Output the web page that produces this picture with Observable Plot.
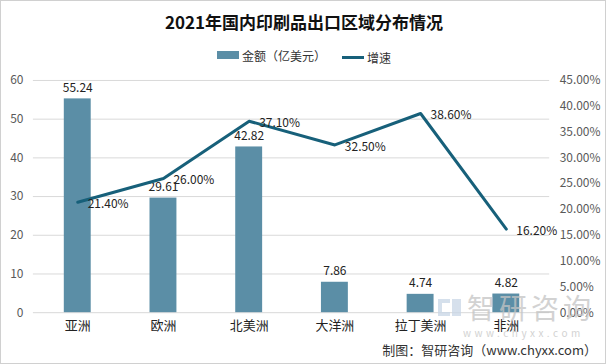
<!DOCTYPE html>
<html><head><meta charset="utf-8">
<script src="https://cdn.jsdelivr.net/npm/d3@7"></script>
<script src="https://cdn.jsdelivr.net/npm/@observablehq/plot@0.6"></script>
<style>
body{margin:0;background:#fff;font-family:"Noto Sans CJK SC","Noto Sans",sans-serif;}
#wrap{position:relative;width:606px;height:364px;box-sizing:border-box;border:1px solid #d0d0d0;overflow:hidden;background:#fff;}
#title{position:absolute;left:0;top:8px;width:606px;text-align:center;font-size:17px;font-weight:bold;color:#111;}
#legend{position:absolute;left:0;top:44px;width:606px;text-align:center;font-size:12px;color:#333;}
#legend span{display:inline-flex;align-items:center;margin:0 8px;}
#plot{position:absolute;left:0;top:67px;}
#cap{position:absolute;right:8px;top:339px;font-size:13px;color:#333;}
#wm{position:absolute;left:466px;top:286px;color:#c4c4c4;opacity:0.75;font-size:28px;letter-spacing:4px;pointer-events:none;}
#wm2{position:absolute;left:462px;top:324px;color:#c4c4c4;opacity:0.75;font-size:10px;letter-spacing:3.5px;pointer-events:none;}
#logo1{position:absolute;left:437px;top:298px;width:12px;height:17px;border:4px solid #c8d6e6;border-right:none;opacity:0.75;box-sizing:border-box;}
#logo2{position:absolute;left:451px;top:298px;width:9px;height:17px;background:#c8d6e6;opacity:0.75;}
</style></head>
<body>
<div id="wrap">
<div id="title">2021年国内印刷品出口区域分布情况</div>
<div id="legend"><span><i style="display:inline-block;width:22px;height:8px;background:#5b8ea6;margin-right:3px"></i>金额（亿美元）</span><span><i style="display:inline-block;width:22px;height:3px;background:#17607a;margin-right:3px"></i>增速</span></div>
<div id="plot"></div>
<div id="logo1"></div><div id="logo2"></div>
<div id="wm">智研咨询</div>
<div id="wm2">www.chyxx.com</div>
<div id="cap">制图：智研咨询（www.chyxx.com）</div>
</div>
<script>
const regions = ["亚洲","欧洲","北美洲","大洋洲","拉丁美洲","非洲"];
const amounts = [55.24, 29.61, 42.82, 7.86, 4.74, 4.82];
const growth = [21.40, 26.00, 37.10, 32.50, 38.60, 16.20];
const leftTicks = [0,10,20,30,40,50,60];
const rightTicks = [0,5,10,15,20,25,30,35,40,45];

const k = 60/45;
const data = regions.map((r,i)=>({region:r, amount:amounts[i], growth:growth[i], gy:growth[i]*k}));

const chart = Plot.plot({
  width:606, height:272,
  marginTop:12, marginBottom:27, marginLeft:32, marginRight:56,
  style:{fontFamily:'"Noto Sans CJK SC","Noto Sans",sans-serif', fontSize:"12px", color:"#595959", background:"transparent"},
  x:{domain:regions, paddingInner:0.69, paddingOuter:0.345, label:null},
  y:{domain:[0,60], label:null},
  marks:[
    Plot.gridY(leftTicks,{stroke:"#d9d9d9", strokeOpacity:1}),
    Plot.axisY(leftTicks,{anchor:"left", tickSize:0, tickPadding:10, label:null, fontSize:12}),
    Plot.axisY(rightTicks.map(p=>p*k),{anchor:"right", tickSize:0, tickPadding:10, textAnchor:"start", label:null, tickFormat:d=>(d/k).toFixed(2)+"%", fontSize:12}),
    Plot.axisX({tickSize:0, tickPadding:8, label:null, fontSize:13, fill:"#222"}),
    Plot.barY(data,{x:"region", y:"amount", fill:"#5b8ea6"}),
    Plot.text(data,{x:"region", y:"amount", text:d=>d.amount.toFixed(2), dy:-11, fill:"#222", fontSize:12}),
    Plot.line(data,{x:"region", y:"gy", stroke:"#17607a", strokeWidth:3}),
    Plot.text(data,{x:"region", y:"gy", text:d=>d.growth.toFixed(2)+"%", textAnchor:"start", dx:10, dy:2, fill:"#222", fontSize:12})
  ]
});
document.getElementById("plot").appendChild(chart);
</script>
</body></html>
